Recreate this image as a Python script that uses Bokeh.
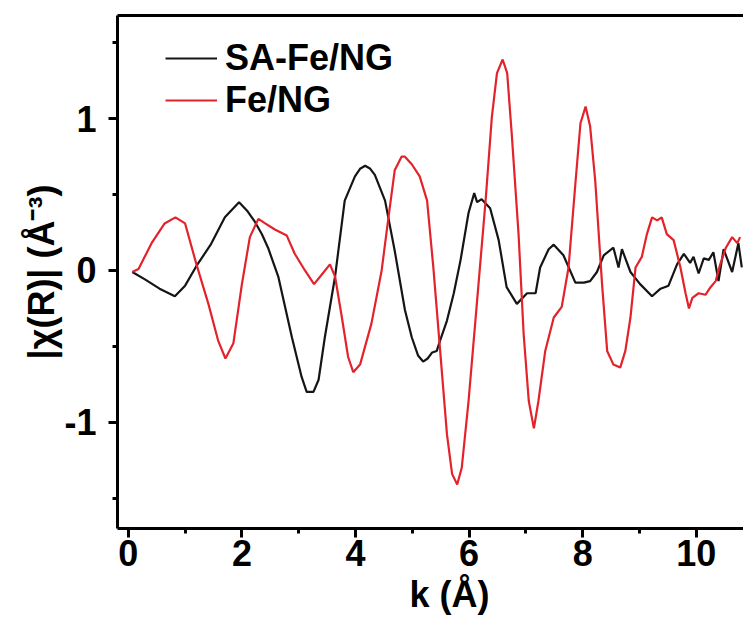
from bokeh.plotting import figure
from bokeh.models import (Range1d, FixedTicker, LinearAxis, Legend, LegendItem, Title)
from bokeh.embed import file_html
from bokeh.resources import INLINE

# ---- data ----
k_sa = [0.07, 0.30, 0.55, 0.82, 1.00, 1.20, 1.45, 1.70, 1.95, 2.10,
        2.23, 2.35, 2.46, 2.64, 2.88, 3.05, 3.14, 3.26, 3.35, 3.46,
        3.64, 3.81, 3.99, 4.08, 4.17, 4.26, 4.34, 4.52, 4.69, 4.87,
        4.99, 5.10, 5.19, 5.27, 5.35, 5.43, 5.49, 5.61, 5.73, 5.85,
        5.99, 6.09, 6.14, 6.22, 6.37, 6.52, 6.66, 6.84, 7.02, 7.17,
        7.25, 7.40, 7.49, 7.66, 7.87, 8.02, 8.13, 8.25, 8.37, 8.54,
        8.63, 8.69, 8.84, 9.01, 9.22, 9.37, 9.51, 9.66, 9.78, 9.89,
        9.95, 10.04, 10.13, 10.22, 10.30, 10.39, 10.48, 10.63, 10.74, 10.80]
chi_sa = [-0.01, -0.06, -0.12, -0.17, -0.10, 0.03, 0.17, 0.35, 0.45, 0.39,
          0.32, 0.24, 0.15, -0.04, -0.44, -0.70, -0.80, -0.80, -0.72, -0.44,
          -0.04, 0.46, 0.62, 0.67, 0.69, 0.67, 0.63, 0.46, 0.13, -0.26,
          -0.44, -0.56, -0.60, -0.58, -0.54, -0.53, -0.46, -0.33, -0.15, 0.07,
          0.38, 0.51, 0.45, 0.47, 0.41, 0.20, -0.11, -0.22, -0.15, -0.15,
          0.02, 0.14, 0.17, 0.10, -0.08, -0.08, -0.07, -0.01, 0.10, 0.15,
          0.02, 0.14, -0.01, -0.09, -0.17, -0.12, -0.10, 0.04, 0.11, 0.05,
          0.09, -0.02, 0.08, 0.07, 0.12, -0.07, 0.14, -0.01, 0.18, 0.02]

k_fe = [0.07, 0.18, 0.41, 0.64, 0.83, 1.00, 1.20, 1.41, 1.58, 1.71,
        1.85, 2.00, 2.14, 2.29, 2.41, 2.58, 2.79, 2.93, 3.11, 3.27,
        3.40, 3.55, 3.64, 3.76, 3.87, 3.96, 4.08, 4.28, 4.46, 4.58,
        4.69, 4.81, 4.87, 4.99, 5.13, 5.26, 5.37, 5.49, 5.61, 5.70,
        5.79, 5.87, 5.99, 6.14, 6.29, 6.40, 6.49, 6.59, 6.67, 6.75,
        6.87, 6.96, 7.05, 7.14, 7.22, 7.34, 7.49, 7.63, 7.75, 7.87,
        7.96, 8.05, 8.13, 8.22, 8.34, 8.43, 8.54, 8.66, 8.75, 8.84,
        8.93, 9.04, 9.13, 9.22, 9.31, 9.39, 9.48, 9.60, 9.72, 9.81,
        9.87, 9.93, 10.04, 10.16, 10.25, 10.34, 10.42, 10.52, 10.63, 10.72,
        10.77]
chi_fe = [-0.01, 0.01, 0.18, 0.31, 0.35, 0.31, 0.04, -0.22, -0.46, -0.58,
          -0.48, -0.09, 0.22, 0.34, 0.31, 0.27, 0.23, 0.11, 0.00, -0.09,
          -0.03, 0.04, -0.04, -0.31, -0.57, -0.67, -0.62, -0.35, 0.00, 0.35,
          0.66, 0.75, 0.75, 0.70, 0.62, 0.46, 0.02, -0.53, -1.08, -1.34,
          -1.41, -1.30, -0.86, -0.20, 0.46, 1.01, 1.30, 1.39, 1.30, 0.90,
          0.24, -0.42, -0.86, -1.04, -0.86, -0.53, -0.31, -0.24, 0.02, 0.57,
          0.97, 1.08, 0.95, 0.59, -0.09, -0.53, -0.62, -0.64, -0.53, -0.31,
          0.02, 0.09, 0.24, 0.35, 0.33, 0.35, 0.24, 0.20, 0.02, -0.15,
          -0.25, -0.18, -0.15, -0.16, -0.11, -0.07, 0.04, 0.15, 0.22, 0.18,
          0.22]

series_names = ["SA-Fe/NG", "Fe/NG"]
x_major = [0, 2, 4, 6, 8, 10]
x_minor = [1, 3, 5, 7, 9]
y_major = [-1, 0, 1]
y_minor = [-1.5, -0.5, 0.5, 1.5]
y_tick_text = {-1: "-1", 0: "0", 1: "1"}
x_title = "k (Å)"
y_title = "|χ(R)| (Å⁻³)"

FONT = "Liberation Sans"
FS = "36px"

p = figure(width=743, height=624, output_backend="svg", toolbar_location=None,
           x_range=Range1d(-0.19, 10.83), y_range=Range1d(-1.70, 1.68),
           min_border_left=117, min_border_top=15, min_border_bottom=96,
           min_border_right=0, x_axis_location=None, y_axis_location=None)
p.outline_line_color = None
p.grid.visible = False
p.background_fill_color = "white"
p.border_fill_color = "white"


def style_axis(ax, major, minor, show):
    ax.ticker = FixedTicker(ticks=major, minor_ticks=minor)
    ax.axis_line_width = 3
    ax.axis_line_color = "black"
    ax.major_tick_line_width = 3
    ax.minor_tick_line_width = 3
    ax.major_tick_in = 0
    ax.minor_tick_in = 0
    if show:
        ax.major_tick_out = 9
        ax.minor_tick_out = 5
        ax.major_label_text_font = FONT
        ax.major_label_text_font_style = "bold"
        ax.major_label_text_font_size = FS
        ax.major_label_text_color = "black"
    else:
        ax.major_tick_out = 0
        ax.minor_tick_out = 0
        ax.major_label_text_font_size = "0px"
        ax.major_label_text_color = None


xb = LinearAxis()
style_axis(xb, x_major, x_minor, True)
xb.major_label_standoff = 2
p.add_layout(xb, "below")

yl = LinearAxis()
style_axis(yl, y_major, y_minor, True)
yl.major_label_standoff = 12
yl.major_label_overrides = y_tick_text
p.add_layout(yl, "left")

xt = LinearAxis()
style_axis(xt, x_major, [], False)
p.add_layout(xt, "above")

r_sa = p.line(k_sa, chi_sa, line_color="#151515", line_width=2.2)
r_fe = p.line(k_fe, chi_fe, line_color="#e3232b", line_width=2.2)

legend = Legend(items=[LegendItem(label=series_names[0], renderers=[r_sa]),
                       LegendItem(label=series_names[1], renderers=[r_fe])],
                location=(48, 407), padding=0, margin=0, spacing=0,
                glyph_width=52, glyph_height=42, label_height=42,
                label_standoff=8, border_line_color=None,
                background_fill_alpha=0,
                label_text_font=FONT, label_text_font_style="bold",
                label_text_font_size=FS, label_text_color="black")
p.add_layout(legend)

# axis titles as side-panel titles
tx = Title(text=x_title, align="left", offset=292, standoff=6,
           text_font=FONT, text_font_style="bold", text_font_size=FS,
           text_color="black")
p.add_layout(tx, "below")

ty = Title(text=y_title, align="center", standoff=0,
           text_font=FONT, text_font_style="bold", text_font_size=FS,
           text_color="black")
p.add_layout(ty, "left")

open("out.html", "w").write(file_html(p, INLINE))
